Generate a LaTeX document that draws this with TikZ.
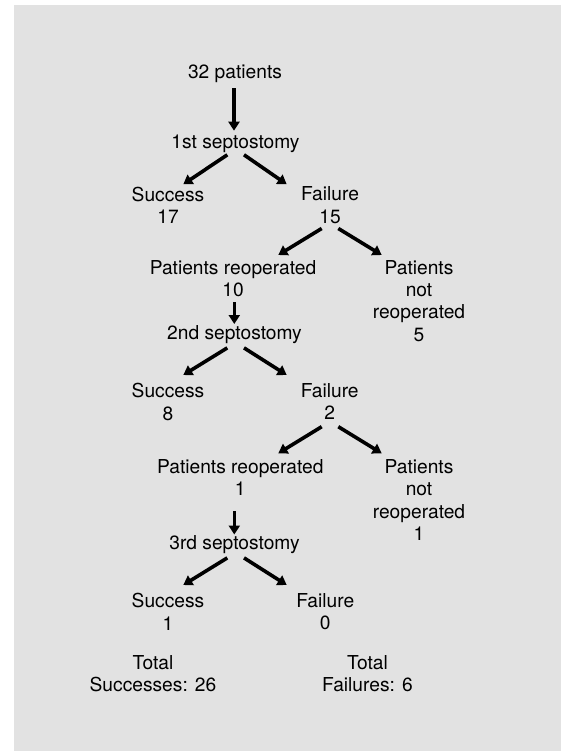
\documentclass[tikz,border=0pt]{standalone}
\usepackage{fontspec}
\setmainfont{TeX Gyre Heros}
\usetikzlibrary{arrows.meta}
\definecolor{panelgray}{RGB}{226,226,226}

\begin{document}
\begin{tikzpicture}[x=1pt, y=-1pt,
        lbl/.style={inner sep=0pt, anchor=north, align=center, font=\fontsize{19.2}{22.4}\selectfont},
        arr/.style={line width=3.6pt, -{Triangle[length=9pt,width=11pt]}}]
        % Page and grey panel
                \useasboundingbox (0,0) rectangle (567,751);
                \fill[white] (0,0) rectangle (567,751);
                \fill[panelgray] (14,5) rectangle (561,751);

                % First operation
                \node[lbl] (pat) at (235,65) {32 patients};
                \node[lbl] (sep1) at (235.5,135) {1st septostomy};
                \node[lbl] (suc1) at (168,186.7) {Success\\17};
                \node[lbl] (fail1) at (330,186.7) {Failure\\15};

                % Second operation
                \node[lbl] (reop1) at (233,260) {Patients reoperated\\10};
                \node[lbl] (nrep1) at (419,260) {Patients\\not\\reoperated\\5};
                \node[lbl] (sep2) at (234.5,325) {2nd septostomy};
                \node[lbl] (suc2) at (168,383.3) {Success\\8};
                \node[lbl] (fail2) at (329.7,383.3) {Failure\\2};

                % Third operation
                \node[lbl] (reop2) at (240.3,459.3) {Patients reoperated\\1};
                \node[lbl] (nrep2) at (419,459.3) {Patients\\not\\reoperated\\1};
                \node[lbl] (sep3) at (234.5,535) {3rd septostomy};
                \node[lbl] (suc3) at (168,593.3) {Success\\1};
                \node[lbl] (fail3) at (325.3,593.3) {Failure\\0};

                % Totals
                \node[lbl] (tsuc) at (153,655) {Total\\Successes: 26};
                \node[lbl] (tfail) at (367.5,655) {Total\\Failures: 6};

                % Arrows of the first operation
                \draw[arr] ([xshift=-1pt,yshift=-5.3pt]pat.south) -- ([xshift=-1.5pt,yshift=4.3pt]sep1.north);
                \draw[arr] ([xshift=-8.2pt,yshift=-1.6pt]sep1.south) -- ([xshift=15.3pt,yshift=2.4pt]suc1.north);
                \draw[arr] ([xshift=8.5pt,yshift=-1.6pt]sep1.south) -- ([xshift=-43.3pt,yshift=2.4pt]fail1.north);

                % Arrows of the second operation
                \draw[arr] ([xshift=-8.3pt,yshift=-4.7pt]fail1.south) -- ([xshift=45.3pt,yshift=5pt]reop1.north);
                \draw[arr] ([xshift=8.3pt,yshift=-4.7pt]fail1.south) -- ([xshift=-37.3pt,yshift=5pt]nrep1.north);
                \draw[arr] ([xshift=1.3pt,yshift=-5pt]reop1.south) -- ([xshift=-0.2pt,yshift=1pt]sep2.north);
                \draw[arr] ([xshift=-7.2pt,yshift=-4.3pt]sep2.south) -- ([xshift=15.3pt,yshift=8.3pt]suc2.north);
                \draw[arr] ([xshift=9.5pt,yshift=-4.3pt]sep2.south) -- ([xshift=-43pt,yshift=8.3pt]fail2.north);

                % Arrows of the third operation
                \draw[arr] ([xshift=-8pt,yshift=-6.6pt]fail2.south) -- ([xshift=38pt,yshift=6pt]reop2.north);
                \draw[arr] ([xshift=8.6pt,yshift=-6.6pt]fail2.south) -- ([xshift=-37.3pt,yshift=6pt]nrep2.north);
                \draw[arr] ([xshift=-6pt,yshift=-15pt]reop2.south) -- ([xshift=-0.2pt,yshift=0.5pt]sep3.north);
                \draw[arr] ([xshift=-7.2pt,yshift=-4.3pt]sep3.south) -- ([xshift=15.3pt,yshift=8.3pt]suc3.north);
                \draw[arr] ([xshift=9.5pt,yshift=-4.3pt]sep3.south) -- ([xshift=-38.6pt,yshift=8.3pt]fail3.north);

\end{tikzpicture}
\end{document}
